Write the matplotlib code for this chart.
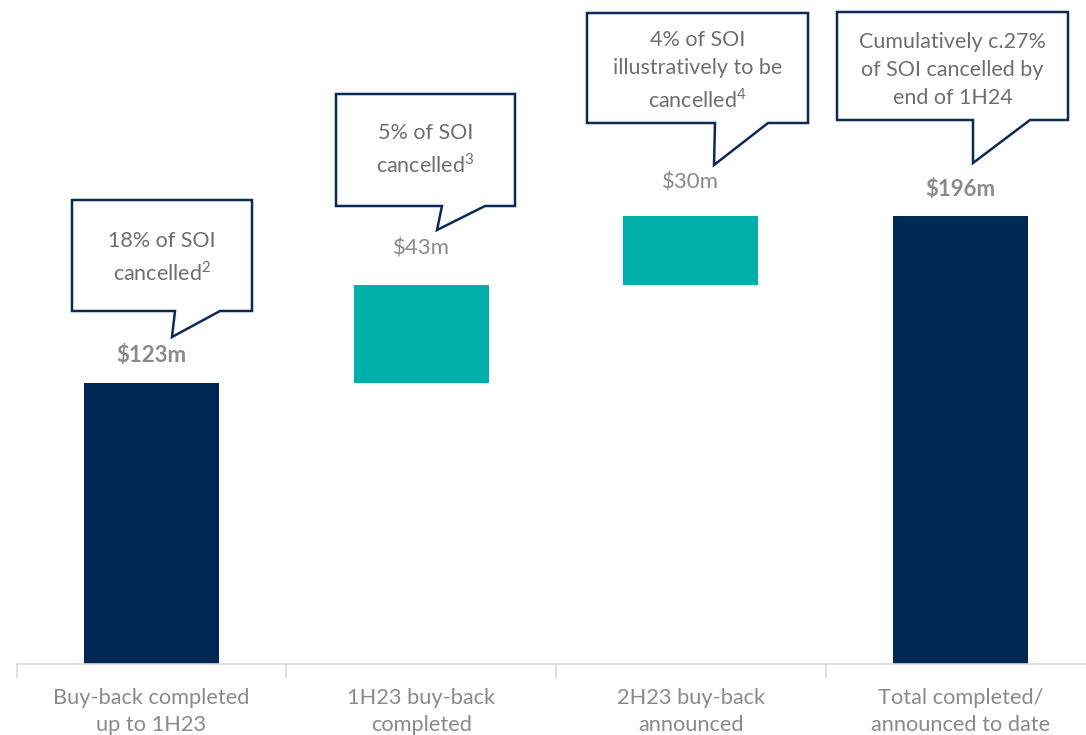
import matplotlib
matplotlib.use("Agg")
import matplotlib.pyplot as plt
from matplotlib.patches import Polygon

categories = ["Buy-back completed\nup to 1H23", "1H23 buy-back\ncompleted",
              "2H23 buy-back\nannounced", "Total completed/\nannounced to date"]
values = [123, 43, 30, 196]
is_total = [True, False, False, True]
value_labels = ["$123m", "$43m", "$30m", "$196m"]
callouts = ["18% of SOI\ncancelled$^{2}$", "5% of SOI\ncancelled$^{3}$",
            "4% of SOI\nillustratively to be\ncancelled$^{4}$",
            "Cumulatively c.27%\nof SOI cancelled by\nend of 1H24"]

NAVY = "#002855"
TEAL = "#00AFAA"
GRAY = "#8A8A8A"
TXT = "#6E6E6E"

plt.rcParams['font.family'] = ['Lato', 'DejaVu Sans']
plt.rcParams['mathtext.fontset'] = 'custom'
plt.rcParams['mathtext.rm'] = 'Lato'

W, H = 1086, 735
fig = plt.figure(figsize=(W / 100, H / 100), dpi=100)
left_px = 16.6
ax = fig.add_axes([left_px / W, (H - 664) / H, 1 - left_px / W, 664 / H])

# waterfall
bottoms = []
run = 0
for v, t in zip(values, is_total):
    if t:
        bottoms.append(0)
        run = v
    else:
        bottoms.append(run)
        run += v
colors = [NAVY if t else TEAL for t in is_total]
x = list(range(len(categories)))
ax.bar(x, values, bottom=bottoms, width=0.5, color=colors, zorder=2)

for s in ["top", "right", "left"]:
    ax.spines[s].set_visible(False)
ax.spines["bottom"].set_color("#D9D9D9")
ax.spines["bottom"].set_linewidth(1.2)
ax.set_yticks([])
ax.set_xticks([-0.5, 0.5, 1.5, 2.5])
ax.set_xticklabels([])
ax.tick_params(axis="x", length=10, color="#D9D9D9", width=1.2)
ax.set_xlim(-0.5, -0.5 + (W - left_px) / 269.7)
ax.set_ylim(0, 664 / 2.285)
for xi, lab in zip(x, categories):
    ax.text(xi, -10.5, lab, ha="center", va="top", fontsize=15.7, color=GRAY,
            linespacing=1.45, clip_on=False)

offs = [20, 26, 24, 19]
for xi, b, v, t, lab, o in zip(x, bottoms, values, is_total, value_labels, offs):
    ax.annotate(lab, (xi, b + v), xytext=(0, o), textcoords="offset points",
                ha="center", va="center", fontsize=16, color=GRAY,
                fontweight="bold" if t else "normal")

# callout boxes in pixel layout
boxes = [
    (72, 200, 252, 311, 175, 220, 172, 337),
    (336, 94, 515, 206, 442, 485, 437, 230),
    (587, 13, 808, 123, 715, 768, 714, 165),
    (837, 12, 1068, 120, 973, 1030, 973, 163),
]
text_dy = [2, 0, 3, 4]

def P(px, py):
    return (px / W, 1 - py / H)

for (l, t, r, b, b1, b2, tx, ty), txt, dy in zip(boxes, callouts, text_dy):
    pts = [P(l, t), P(r, t), P(r, b), P(b2, b), P(tx, ty), P(b1, b), P(l, b)]
    poly = Polygon(pts, closed=True, facecolor="white", edgecolor="#0B2A55",
                   linewidth=1.8, transform=fig.transFigure, zorder=5)
    fig.add_artist(poly)
    cx, cy = P((l + r) / 2, (t + b) / 2 + dy)
    fig.text(cx, cy, txt, ha="center", va="center", fontsize=15.5, color=TXT,
             linespacing=1.48, zorder=6)

fig.savefig("out.png", dpi=100)
